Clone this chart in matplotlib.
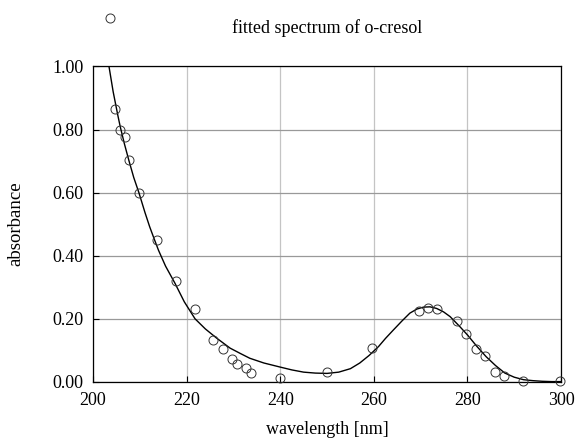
import numpy as np
import matplotlib
matplotlib.use("Agg")
import matplotlib.pyplot as plt

plt.rcParams["font.family"] = "Liberation Serif"

# measured points (wavelength nm, absorbance)
wl_meas = [203.6, 204.7, 205.8, 206.8, 207.7, 209.8, 213.6, 217.7, 221.7,
           225.6, 227.7, 229.6, 230.7, 232.6, 233.7, 239.9, 249.9, 259.7,
           269.7, 271.6, 273.5, 277.8, 279.7, 281.9, 283.8, 285.9, 287.8,
           291.9, 299.8]
abs_meas = [1.154, 0.864, 0.80, 0.775, 0.705, 0.60, 0.45, 0.32, 0.23,
            0.133, 0.104, 0.073, 0.057, 0.044, 0.028, 0.013, 0.032, 0.108,
            0.225, 0.234, 0.231, 0.193, 0.152, 0.104, 0.082, 0.032, 0.019,
            0.003, 0.003]

# fitted curve
wl_fit = [203.3, 204.3, 205.3, 205.8, 206.7, 207.7, 208.7, 209.8, 211.1, 212.1,
          213.1, 214.0, 215.5, 217.5, 219.5, 221.8, 224.0, 226.4, 229.3, 231.5,
          233.5, 236.5, 240.0, 242.5, 245.0, 247.5, 250.0, 252.5, 255.0, 257.0,
          259.0, 261.0, 262.5, 264.2, 266.0, 267.7, 269.2, 270.6, 272.0, 273.4,
          274.9, 276.3, 278.4, 280.0, 282.0, 284.0, 286.0, 288.0, 290.0, 292.0,
          294.0, 296.0, 298.0, 300.0]
abs_fit = [1.01, 0.92, 0.845, 0.81, 0.755, 0.70, 0.648, 0.60, 0.537, 0.492,
           0.452, 0.417, 0.367, 0.313, 0.254, 0.20, 0.168, 0.139, 0.107, 0.090,
           0.075, 0.060, 0.047, 0.038, 0.031, 0.028, 0.027, 0.031, 0.042, 0.060,
           0.084, 0.112, 0.138, 0.165, 0.193, 0.218, 0.231, 0.237, 0.238, 0.233,
           0.222, 0.207, 0.175, 0.149, 0.113, 0.080, 0.052, 0.028, 0.015, 0.007,
           0.004, 0.002, 0.001, 0.001]

xticks = [200, 220, 240, 260, 280, 300]
yticks = [0.0, 0.2, 0.4, 0.6, 0.8, 1.0]

fig = plt.figure(figsize=(5.76, 4.40), dpi=100)
ax = fig.add_axes([0.1615, 0.132, 0.8125, 0.717])

ax.plot(wl_fit, abs_fit, color="black", lw=1.0)
ax.plot(wl_meas, abs_meas, "o", mfc="none", mec="#333333", ms=6.5, mew=0.7,
        clip_on=False, zorder=3)

ax.set_xlim(200, 300)
ax.set_ylim(0, 1.0)
ax.set_xticks(xticks)
ax.set_yticks(yticks)
ax.set_yticklabels(["%.2f" % v for v in yticks])
ax.tick_params(direction="in", length=4, labelsize=13, pad=7)
ax.xaxis.grid(True, color="#c4c4c4", lw=0.9)
ax.yaxis.grid(True, color="#999999", lw=0.9)
for s in ax.spines.values():
    s.set_linewidth(0.9)

ax.set_title("fitted spectrum of o-cresol", fontsize=13, pad=24)
ax.set_xlabel("wavelength [nm]", fontsize=13, labelpad=9)
ax.set_ylabel("absorbance", fontsize=13.5, labelpad=20)

fig.savefig("out.png", dpi=100)
